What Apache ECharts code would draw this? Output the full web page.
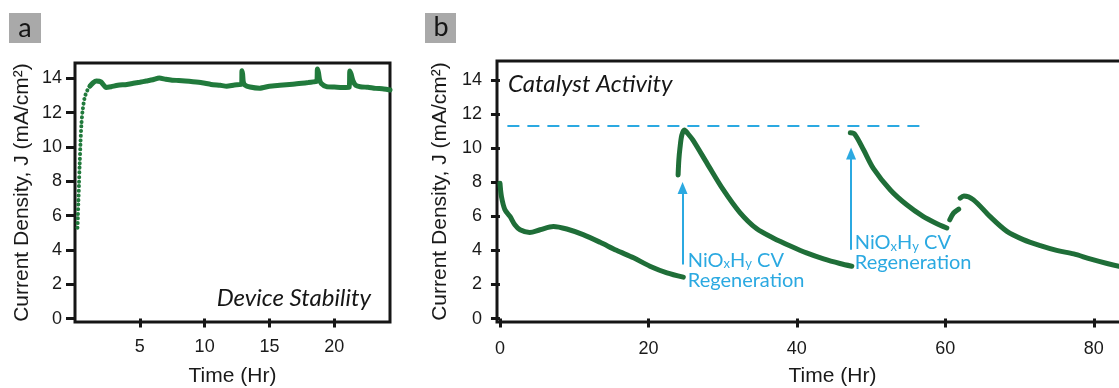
<!DOCTYPE html>
<html>
<head>
<meta charset="utf-8">
<style>
  html, body { margin: 0; padding: 0; background: #ffffff; }
  #chart { width: 1119px; height: 388px; }
</style>
<script src="https://cdn.jsdelivr.net/npm/echarts@6/dist/echarts.min.js"></script>
</head>
<body>
<div id="chart"></div>
<script>
// ---- Panel a: device stability (current density vs time) ----
const riseTime = [0.19, 0.22, 0.26, 0.31, 0.36, 0.42, 0.5, 0.6, 0.75, 0.95, 1.15];
const riseJ    = [5.3, 5.9, 6.8, 7.9, 9.0, 10.2, 11.4, 12.2, 12.9, 13.3, 13.55];

const stabilityTime = [1.15, 1.4, 1.65, 2.0, 2.4, 2.8, 3.3, 4.0, 4.5, 5.0, 5.5, 6.0, 6.5, 7.0, 7.5, 8.0, 8.5, 9.1,
  9.8, 10.5, 11.2, 11.7, 12.3, 12.85, 12.88, 12.93, 12.98, 13.1, 13.5, 14.25, 15.0, 15.8, 16.8, 17.5, 18.0, 18.4,
  18.65, 18.7, 18.78, 18.86, 19.0, 19.4, 20.0, 20.9, 21.15, 21.2, 21.3, 21.45, 21.65, 22.0, 22.6, 23.2, 23.7, 24.0, 24.3];
const stabilityJ = [13.55, 13.75, 13.85, 13.8, 13.47, 13.52, 13.6, 13.65, 13.72, 13.78, 13.85, 13.92, 14.02, 13.95, 13.9, 13.88, 13.85, 13.81,
  13.75, 13.65, 13.6, 13.55, 13.62, 13.65, 14.45, 14.25, 13.8, 13.62, 13.5, 13.43, 13.55, 13.6, 13.66, 13.72, 13.76, 13.8,
  13.82, 14.55, 14.35, 13.95, 13.7, 13.52, 13.5, 13.47, 13.48, 14.43, 14.25, 13.85, 13.6, 13.52, 13.48, 13.42, 13.4, 13.37, 13.33];

const stabilityXTicks = [5, 10, 15, 20];
const jTicks = [0, 2, 4, 6, 8, 10, 12, 14];

// ---- Panel b: catalyst activity with NiOxHy CV regeneration ----
const run1Time = [0, 0.2, 0.67, 1.35, 2.0, 2.7, 4.0, 5.4, 7.2, 9.0, 11.2, 13.5, 15.7, 18.0, 20.2, 22.5, 24.7];
const run1J    = [7.93, 7.15, 6.38, 5.99, 5.5, 5.21, 5.05, 5.21, 5.4, 5.25, 4.92, 4.47, 4.0, 3.56, 3.07, 2.68, 2.43];

const run2Time = [24.0, 24.1, 24.25, 24.5, 24.85, 25.3, 26.0, 27.9, 30.1, 32.3, 34.6, 36.8, 39.2, 41.3, 43.6, 45.8, 47.4];
const run2J    = [8.42, 9.3, 10.0, 10.75, 11.05, 10.85, 10.46, 9.1, 7.54, 6.23, 5.26, 4.73, 4.24, 3.85, 3.5, 3.23, 3.07];

const run3Time = [47.2, 47.8, 49.0, 50.3, 52.6, 54.8, 57.0, 58.6, 60.2];
const run3J    = [10.89, 10.81, 9.88, 8.81, 7.54, 6.67, 5.99, 5.62, 5.31];

const run4Time = [60.6, 61.1, 61.8];
const run4J    = [5.79, 6.18, 6.42];

const run5Time = [62.0, 62.5, 63.8, 66.0, 68.3, 70.5, 72.8, 75.0, 77.3, 79.5, 81.8, 83.4, 85.0];
const run5J    = [7.06, 7.19, 6.96, 5.99, 5.11, 4.63, 4.28, 4.0, 3.79, 3.5, 3.23, 3.07, 2.95];

const activityXTicks = [0, 20, 40, 60, 80];

// initial activity reference level and the two regeneration events
const referenceJ = 11.33;
const referenceSpan = [1.0, 56.8];
const regenTime = [24.6, 47.3];
const regenArrowFrom = [3.17, 4.04];
const regenArrowTo = [7.65, 9.68];
const regenLabelAt = [[25.3, 2.83], [47.8, 3.85]];

const green = '#1f6e38';
const greenA = '#217a3c';
const cyan = '#2ba9e1';
const ink = '#161616';

function pairs(xs, ys) { return xs.map((x, i) => [x, ys[i]]); }

const tickStyle = { show: true, inside: false, length: 9, lineStyle: { color: ink, width: 3 } };
const labelFont = { fontFamily: 'Liberation Sans', fontSize: 18, color: '#1a1a1a' };
const nameFont = { fontFamily: 'Liberation Sans', fontSize: 21, color: '#1a1a1a' };

const regenRich = {
  m: { fontFamily: 'Lato', fontSize: 20, color: cyan, lineHeight: 20 },
  s: { fontFamily: 'Lato', fontSize: 13, color: cyan, lineHeight: 20, verticalAlign: 'bottom', padding: [6, 0, 0, 0] }
};

const option = {
  animation: false,
  backgroundColor: '#ffffff',
  textStyle: { fontFamily: 'Liberation Sans' },
  grid: [
    { left: 75, top: 63, width: 315, height: 259, outerBoundsMode: 'none', containLabel: false,
      show: true, borderColor: ink, borderWidth: 3, backgroundColor: 'transparent' },
    { left: 497, top: 61, width: 671, height: 261, outerBoundsMode: 'none', containLabel: false,
      show: true, borderColor: ink, borderWidth: 3, backgroundColor: 'transparent' }
  ],
  xAxis: [
    {
      gridIndex: 0, type: 'value', min: 0, max: 24.3,
      axisLine: { show: false }, splitLine: { show: false },
      axisTick: Object.assign({ customValues: stabilityXTicks }, tickStyle),
      axisLabel: Object.assign({ customValues: stabilityXTicks, margin: 16 }, labelFont),
      name: 'Time (Hr)', nameLocation: 'middle', nameGap: 44, nameTextStyle: nameFont
    },
    {
      gridIndex: 1, type: 'value', min: -0.4, max: 90,
      axisLine: { show: false }, splitLine: { show: false },
      axisTick: Object.assign({ customValues: activityXTicks }, tickStyle),
      axisLabel: Object.assign({ customValues: activityXTicks, margin: 18 }, labelFont),
      name: 'Time (Hr)', nameLocation: 'middle', nameGap: 44, nameTextStyle: nameFont
    }
  ],
  yAxis: [
    {
      gridIndex: 0, type: 'value', min: -0.2, max: 14.9,
      axisLine: { show: false }, splitLine: { show: false },
      axisTick: Object.assign({ customValues: jTicks }, tickStyle),
      axisLabel: Object.assign({ customValues: jTicks, margin: 13 }, labelFont),
      name: 'Current Density, J (mA/cm²)', nameLocation: 'middle', nameGap: 42, nameRotate: 90, nameTextStyle: nameFont
    },
    {
      gridIndex: 1, type: 'value', min: -0.2, max: 15.1,
      axisLine: { show: false }, splitLine: { show: false },
      axisTick: Object.assign({ customValues: jTicks }, tickStyle),
      axisLabel: Object.assign({ customValues: jTicks, margin: 15 }, labelFont),
      name: 'Current Density, J (mA/cm²)', nameLocation: 'middle', nameGap: 41, nameRotate: 90, nameTextStyle: nameFont
    }
  ],
  series: [
    {
      type: 'line', xAxisIndex: 0, yAxisIndex: 0, data: pairs(riseTime, riseJ),
      showSymbol: false, smooth: 0.3,
      lineStyle: { color: greenA, width: 4, type: [0.1, 4.5], cap: 'round' }
    },
    {
      type: 'line', xAxisIndex: 0, yAxisIndex: 0, data: pairs(stabilityTime, stabilityJ),
      showSymbol: false, smooth: 0.2,
      lineStyle: { color: greenA, width: 5, cap: 'round', join: 'round' }
    },
    {
      type: 'line', xAxisIndex: 1, yAxisIndex: 1, data: pairs(run1Time, run1J),
      showSymbol: false, smooth: 0.3,
      lineStyle: { color: green, width: 5, cap: 'round', join: 'round' },
      markLine: {
        silent: true, symbol: ['none', 'none'],
        label: { show: false },
        lineStyle: { color: cyan, width: 2, type: [12, 8] },
        data: [[{ coord: [referenceSpan[0], referenceJ] }, { coord: [referenceSpan[1], referenceJ] }]]
      }
    },
    {
      type: 'line', xAxisIndex: 1, yAxisIndex: 1, data: pairs(run2Time, run2J),
      showSymbol: false, smooth: 0.3,
      lineStyle: { color: green, width: 5, cap: 'round', join: 'round' },
      markLine: {
        silent: true, symbol: ['none', 'triangle'], symbolSize: [10, 12],
        label: { show: false },
        lineStyle: { color: cyan, width: 2, type: 'solid' },
        data: regenTime.map((t, i) => [{ coord: [t, regenArrowFrom[i]] }, { coord: [t, regenArrowTo[i]] }])
      },
      markPoint: {
        silent: true, symbol: 'circle', symbolSize: 0,
        label: {
          show: true, position: 'right', distance: 0,
          formatter: '{m|NiO}{s|x}{m|H}{s|y}{m| CV}\n{m|Regeneration}',
          rich: regenRich
        },
        data: regenLabelAt.map(c => ({ coord: c }))
      }
    },
    {
      type: 'line', xAxisIndex: 1, yAxisIndex: 1, data: pairs(run3Time, run3J),
      showSymbol: false, smooth: 0.3,
      lineStyle: { color: green, width: 5, cap: 'round', join: 'round' }
    },
    {
      type: 'line', xAxisIndex: 1, yAxisIndex: 1, data: pairs(run4Time, run4J),
      showSymbol: false, smooth: 0.3,
      lineStyle: { color: green, width: 5, cap: 'round', join: 'round' }
    },
    {
      type: 'line', xAxisIndex: 1, yAxisIndex: 1, data: pairs(run5Time, run5J),
      showSymbol: false, smooth: 0.3,
      lineStyle: { color: green, width: 5, cap: 'round', join: 'round' }
    }
  ],
  graphic: [
    { type: 'rect', left: 9, top: 13, shape: { width: 32, height: 30 }, style: { fill: '#a9a9a9' } },
    { type: 'text', x: 25, y: 28, style: { text: 'a', fontFamily: 'Lato', fontSize: 27, fill: ink, align: 'center', verticalAlign: 'middle' } },
    { type: 'rect', left: 425, top: 13, shape: { width: 31, height: 30 }, style: { fill: '#a9a9a9' } },
    { type: 'text', x: 441, y: 27, style: { text: 'b', fontFamily: 'Lato', fontSize: 27, fill: ink, align: 'center', verticalAlign: 'middle' } },
    { type: 'text', x: 371, y: 298, style: { text: 'Device Stability', fontFamily: 'Lato', fontStyle: 'italic', fontSize: 24, fill: ink, align: 'right', verticalAlign: 'middle' } },
    { type: 'text', x: 508, y: 84, style: { text: 'Catalyst Activity', fontFamily: 'Lato', fontStyle: 'italic', fontSize: 24, fill: ink, align: 'left', verticalAlign: 'middle' } }
  ]
};

const chart = echarts.init(document.getElementById('chart'), null, { renderer: 'canvas' });
chart.setOption(option);
</script>
</body>
</html>
